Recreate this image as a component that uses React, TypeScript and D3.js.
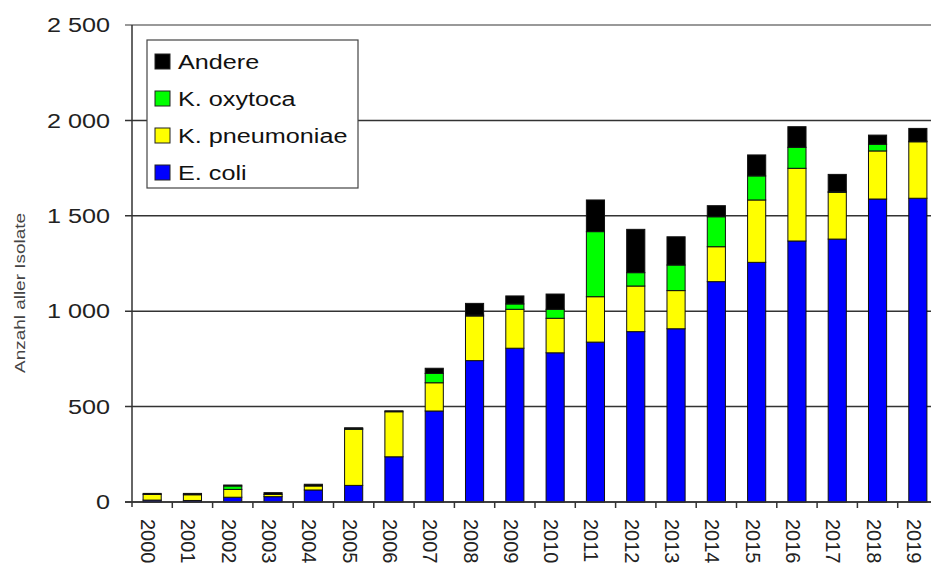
import React from "react";
import * as d3 from "d3";

const years = ["2000","2001","2002","2003","2004","2005","2006","2007","2008","2009","2010","2011","2012","2013","2014","2015","2016","2017","2018","2019"];
const eColi = [10, 8, 25, 28, 63, 87, 237, 477, 741, 806, 782, 838, 893, 908, 1155, 1256, 1368, 1378, 1588, 1592];
const kPneumoniae = [30, 30, 41, 12, 21, 294, 236, 148, 234, 204, 181, 238, 239, 200, 183, 327, 381, 245, 252, 296];
const kOxytoca = [0, 0, 18, 0, 0, 3, 0, 49, 5, 28, 47, 341, 70, 134, 157, 126, 110, 3, 35, 3];
const andere = [5, 7, 5, 9, 9, 5, 5, 27, 61, 42, 80, 166, 227, 148, 58, 110, 108, 91, 48, 67];
const seriesNames = ["E. coli", "K. pneumoniae", "K. oxytoca", "Andere"];
const seriesColors = ["#0000ff", "#ffff00", "#00ff00", "#000000"];
const yTicks = [0, 500, 1000, 1500, 2000, 2500];
const yTickLabels = ["0", "500", "1 000", "1 500", "2 000", "2 500"];
const yTitle = "Anzahl aller Isolate";

const W = 931;
const H = 566;
const axisX = 132;
const baseY = 502;
const topY = 25;
const step = 40.3;

export default function App() {
  const rows = years.map((y, i) => ({
    year: y,
    "E. coli": eColi[i],
    "K. pneumoniae": kPneumoniae[i],
    "K. oxytoca": kOxytoca[i],
    Andere: andere[i],
  }));
  const stack = d3.stack<any>().keys(seriesNames);
  const stacked = stack(rows);

  const x = d3
    .scaleBand<string>()
    .domain(years)
    .range([axisX, axisX + step * years.length])
    .paddingInner(0.55)
    .paddingOuter(0.275);
  const y = d3.scaleLinear().domain([0, 2500]).range([baseY, topY]);

  const legendItems = [...seriesNames].reverse();

  return (
    <svg
      width={W}
      height={H}
      style={{ position: "absolute", left: 0, top: 0, background: "#fff" }}
      fontFamily="'Liberation Sans', Arial, sans-serif"
    >
      <rect x={0} y={0} width={W} height={H} fill="#fff" />
      {/* gridlines */}
      {yTicks.map((t) => (
        <line
          key={"g" + t}
          x1={axisX - 7}
          x2={W}
          y1={y(t)}
          y2={y(t)}
          stroke={t === 2500 ? "#777" : "#333"}
          strokeWidth={1.5}
        />
      ))}
      {/* y tick labels */}
      {yTicks.map((t, i) => (
        <text
          key={"yl" + t}
          transform={`translate(110,${y(t)}) scale(1.2,1)`}
          textAnchor="end"
          dominantBaseline="central"
          fontSize={21}
          fill="#222"
        >
          {yTickLabels[i]}
        </text>
      ))}
      {/* bars */}
      {stacked.map((s, si) => (
        <g key={s.key}>
          {s.map((d, i) => {
            const h = y(d[0]) - y(d[1]);
            if (h <= 0) return null;
            return (
              <rect
                key={i}
                x={x(years[i])}
                y={y(d[1])}
                width={x.bandwidth()}
                height={h}
                fill={seriesColors[si]}
                stroke="#111"
                strokeWidth={1}
              />
            );
          })}
        </g>
      ))}
      {/* axes */}
      <line x1={axisX} x2={axisX} y1={topY} y2={baseY + 5} stroke="#333" strokeWidth={1.5} />
      <line x1={axisX - 7} x2={W} y1={baseY} y2={baseY} stroke="#333" strokeWidth={1.5} />
      {years.map((yr, i) => (
        <line
          key={"xt" + yr}
          x1={axisX + step * (i + 1)}
          x2={axisX + step * (i + 1)}
          y1={baseY}
          y2={baseY + 6}
          stroke="#333"
          strokeWidth={1.5}
        />
      ))}
      {years.map((yr) => (
        <text
          key={"xl" + yr}
          transform={`translate(${(x(yr) as number) + x.bandwidth() / 2 - 4},519) rotate(90)`}
          dominantBaseline="central"
          fontSize={20}
          fill="#222"
        >
          {yr}
        </text>
      ))}
      {/* y title */}
      <text
        transform={`translate(19,293) rotate(-90)`}
        textAnchor="middle"
        dominantBaseline="central"
        fontSize={15}
        fill="#444"
        textLength={160}
        lengthAdjust="spacingAndGlyphs"
      >
        {yTitle}
      </text>
      {/* legend */}
      <rect x={147} y={40} width={211} height={148} fill="#fff" stroke="#444" strokeWidth={1.2} />
      {legendItems.map((name, i) => {
        const cy = 61.5 + i * 37;
        const ci = seriesNames.indexOf(name);
        return (
          <g key={"lg" + name}>
            <rect x={155} y={cy - 7.5} width={15} height={15} fill={seriesColors[ci]} stroke="#222" strokeWidth={1} />
            <text
              transform={`translate(178,${cy}) scale(1.2,1)`}
              dominantBaseline="central"
              fontSize={21}
              fill="#111"
            >
              {name}
            </text>
          </g>
        );
      })}
    </svg>
  );
}
